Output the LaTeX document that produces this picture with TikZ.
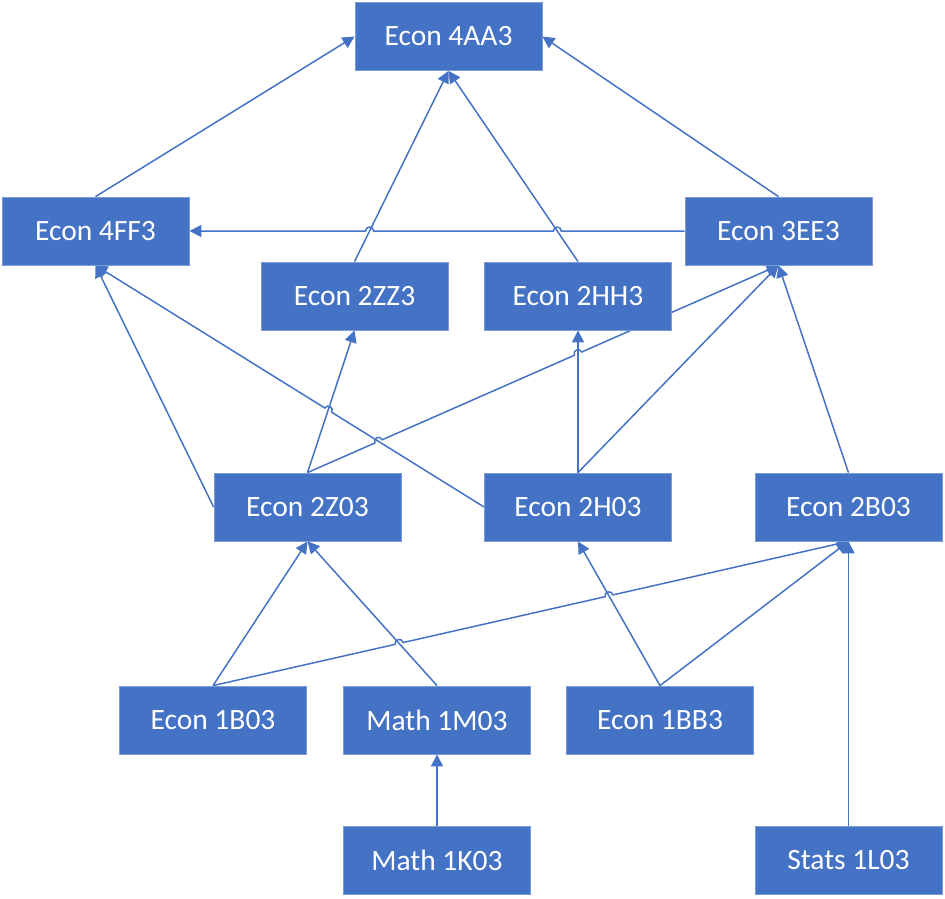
\documentclass[tikz,border=0pt]{standalone}
\usepackage{fontspec}
\setmainfont{Carlito}
\usetikzlibrary{arrows.meta,calc,backgrounds}
\definecolor{obl}{HTML}{4472C4}
\begin{document}
\begin{tikzpicture}[x=1pt,y=-1pt,
  box/.style={rectangle, fill=obl, draw=obl!70!white, line width=0.8pt,
    minimum width=187pt, minimum height=68pt, inner sep=0pt, text=white,
    font=\fontsize{29.5}{35}\selectfont},
  conn/.style={draw=obl, line width=1.5pt, -{Triangle[length=12pt,width=12pt]}},
]
\useasboundingbox (0,0) rectangle (945,898);
\node[box] (n4AA3) at (448.5,36.5) {Econ 4AA3};
\node[box] (n4FF3) at (95.5,231) {Econ 4FF3};
\node[box] (n3EE3) at (778.5,231) {Econ 3EE3};
\node[box] (n2ZZ3) at (354.5,296) {Econ 2ZZ3};
\node[box] (n2HH3) at (578,296) {Econ 2HH3};
\node[box] (n2Z03) at (307.5,507) {Econ 2Z03};
\node[box] (n2H03) at (578,507) {Econ 2H03};
\node[box] (n2B03) at (848.5,507) {Econ 2B03};
\node[box] (n1B03) at (213,720) {Econ 1B03};
\node[box] (n1M03) at (437,720) {Math 1M03};
\node[box] (n1BB3) at (660,720) {Econ 1BB3};
\node[box] (n1K03) at (437,860) {Math 1K03};
\node[box] (n1L03) at (848.5,860) {Stats 1L03};

\begin{scope}[on background layer]
% hop points
\coordinate (hA1) at (intersection of n3EE3.west--n4FF3.east and n2HH3.north--n4AA3.south);
\coordinate (hA2) at (intersection of n3EE3.west--n4FF3.east and n2ZZ3.north--n4AA3.south);
\coordinate (hB1) at (intersection of n2H03.west--n4FF3.south and n2Z03.north--n2ZZ3.south);
\coordinate (hC1) at (intersection of n2Z03.north--n3EE3.south and n2H03.west--n4FF3.south);
\coordinate (hC2) at (intersection of n2Z03.north--n3EE3.south and n2H03.north--n2HH3.south);
\coordinate (hD1) at (intersection of n1B03.north--n2B03.south and n1M03.north--n2Z03.south);
\coordinate (hD2) at (intersection of n1B03.north--n2B03.south and n1BB3.north--n2H03.south);
\coordinate (hA1a) at ($(hA1)!4pt!(n3EE3.west)$);
\coordinate (hA1b) at ($(hA1)!4pt!(n4FF3.east)$);
\coordinate (hA2a) at ($(hA2)!4pt!(n3EE3.west)$);
\coordinate (hA2b) at ($(hA2)!4pt!(n4FF3.east)$);
\coordinate (hB1a) at ($(hB1)!4pt!(n2H03.west)$);
\coordinate (hB1b) at ($(hB1)!4pt!(n4FF3.south)$);
\coordinate (hC1a) at ($(hC1)!4pt!(n2Z03.north)$);
\coordinate (hC1b) at ($(hC1)!4pt!(n3EE3.south)$);
\coordinate (hC2a) at ($(hC2)!4pt!(n2Z03.north)$);
\coordinate (hC2b) at ($(hC2)!4pt!(n3EE3.south)$);
\coordinate (hD1a) at ($(hD1)!4pt!(n1B03.north)$);
\coordinate (hD1b) at ($(hD1)!4pt!(n2B03.south)$);
\coordinate (hD2a) at ($(hD2)!4pt!(n1B03.north)$);
\coordinate (hD2b) at ($(hD2)!4pt!(n2B03.south)$);

\draw[conn] (n4FF3.north) -- (n4AA3.west);
\draw[conn] (n3EE3.north) -- (n4AA3.east);
\draw[conn] (n2ZZ3.north) -- (n4AA3.south);
\draw[conn] (n2HH3.north) -- (n4AA3.south);
\draw[conn] (n3EE3.west) -- (hA1a)
  .. controls ($(hA1a)!5.3pt!270:(hA1b)$) and ($(hA1b)!5.3pt!90:(hA1a)$) .. (hA1b)
  -- (hA2a)
  .. controls ($(hA2a)!5.3pt!270:(hA2b)$) and ($(hA2b)!5.3pt!90:(hA2a)$) .. (hA2b)
  -- (n4FF3.east);
\draw[conn] (n2Z03.west) -- (n4FF3.south);
\draw[conn] (n2H03.west) -- (hB1a)
  .. controls ($(hB1a)!5.3pt!270:(hB1b)$) and ($(hB1b)!5.3pt!90:(hB1a)$) .. (hB1b)
  -- (n4FF3.south);
\draw[conn] (n2Z03.north) -- (n2ZZ3.south);
\draw[conn] (n2Z03.north) -- (hC1a)
  .. controls ($(hC1a)!5.3pt!90:(hC1b)$) and ($(hC1b)!5.3pt!270:(hC1a)$) .. (hC1b)
  -- (hC2a)
  .. controls ($(hC2a)!5.3pt!90:(hC2b)$) and ($(hC2b)!5.3pt!270:(hC2a)$) .. (hC2b)
  -- (n3EE3.south);
\draw[conn] (n2H03.north) -- (n2HH3.south);
\draw[conn] (n2H03.north) -- (n3EE3.south);
\draw[conn] (n2B03.north) -- (n3EE3.south);
\draw[conn] (n1B03.north) -- (n2Z03.south);
\draw[conn] (n1M03.north) -- (n2Z03.south);
\draw[conn] (n1B03.north) -- (hD1a)
  .. controls ($(hD1a)!5.3pt!90:(hD1b)$) and ($(hD1b)!5.3pt!270:(hD1a)$) .. (hD1b)
  -- (hD2a)
  .. controls ($(hD2a)!5.3pt!90:(hD2b)$) and ($(hD2b)!5.3pt!270:(hD2a)$) .. (hD2b)
  -- (n2B03.south);
\draw[conn] (n1BB3.north) -- (n2H03.south);
\draw[conn] (n1BB3.north) -- (n2B03.south);
\draw[conn] (n1K03.north) -- (n1M03.south);
\draw[conn] (n1L03.north) -- (n2B03.south);
\end{scope}
\end{tikzpicture}
\end{document}
